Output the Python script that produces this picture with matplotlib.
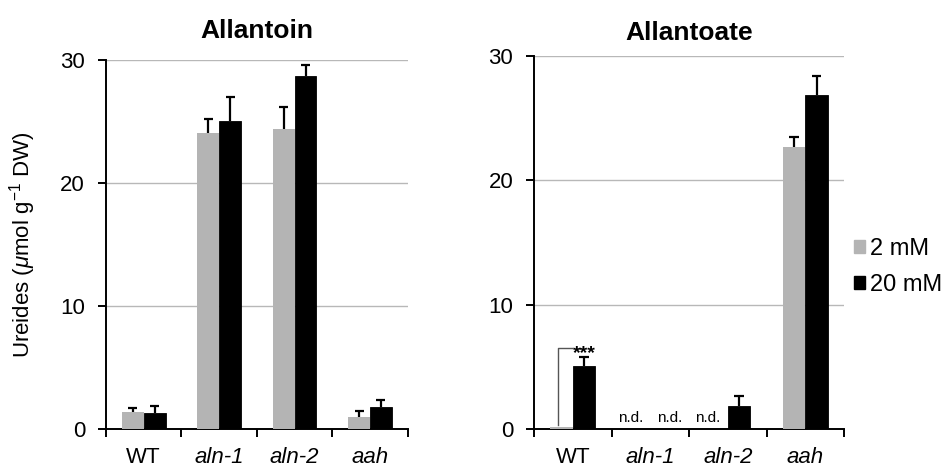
import matplotlib
matplotlib.use("Agg")
import numpy as np
import matplotlib.pyplot as plt
from matplotlib.patches import Patch

plt.rcParams["font.family"] = ["Liberation Sans", "DejaVu Sans"]
plt.rcParams["mathtext.fontset"] = "custom"
plt.rcParams["mathtext.rm"] = "Liberation Sans"
plt.rcParams["mathtext.it"] = "Liberation Sans:italic"

genotypes = ["WT", "aln-1", "aln-2", "aah"]
italic = [False, True, True, True]

# Allantoin (left panel)
allantoin_2mM = [1.4, 24.1, 24.4, 1.0]
allantoin_2mM_err = [0.3, 1.1, 1.8, 0.5]
allantoin_20mM = [1.3, 25.0, 28.7, 1.8]
allantoin_20mM_err = [0.6, 2.0, 0.9, 0.6]

# Allantoate (right panel); NaN = not detected
allantoate_2mM = [0.2, np.nan, np.nan, 22.7]
allantoate_2mM_err = [0.0, 0.0, 0.0, 0.8]
allantoate_20mM = [5.1, np.nan, 1.85, 26.9]
allantoate_20mM_err = [0.7, 0.0, 0.8, 1.5]

GRAY = "#b4b4b4"
W = 0.29
x = np.arange(len(genotypes))


def draw(ax, v2, e2, v20, e20, title, top_pad):
    for vals, errs, off, col in [(v2, e2, -W / 2, GRAY), (v20, e20, W / 2, "black")]:
        vals = np.asarray(vals, float)
        errs = np.asarray(errs, float)
        ok = ~np.isnan(vals)
        ax.bar(x[ok] + off, vals[ok], W, color=col, edgecolor="black",
               linewidth=0.6 if col == "black" else 0, zorder=3)
        has = ok & (errs > 0)
        ax.vlines(x[has] + off, vals[has], vals[has] + errs[has], color="black", lw=1.6, zorder=4)
        ax.hlines(vals[has] + errs[has], x[has] + off - 0.06, x[has] + off + 0.06,
                  color="black", lw=1.6, zorder=4)
    ax.set_xlim(-0.5, 3.5)
    ax.set_ylim(0, 30)
    ax.set_yticks([0, 10, 20, 30])
    ax.yaxis.grid(True, color="#b8b8b8", lw=1.0, zorder=0)
    ax.set_axisbelow(True)
    for s in ["top", "right"]:
        ax.spines[s].set_visible(False)
    for s in ["left", "bottom"]:
        ax.spines[s].set_linewidth(1.4)
    ax.tick_params(axis="y", labelsize=16, length=6, width=1.4, pad=9)
    ax.set_xticks(x)
    ax.set_xticklabels(genotypes, fontsize=16)
    for lab, it in zip(ax.get_xticklabels(), italic):
        if it:
            lab.set_style("italic")
    ax.set_xticks(np.arange(-0.5, 4.0, 1.0), minor=True)
    ax.tick_params(axis="x", which="major", length=0, pad=13)
    ax.tick_params(axis="x", which="minor", length=6, width=1.4)
    ax.set_title(title, fontsize=19, fontweight="bold", pad=top_pad)


fig = plt.figure(figsize=(9.46, 4.72), dpi=100)
ax1 = fig.add_axes([0.112, 0.091, 0.319, 0.782])
ax2 = fig.add_axes([0.5645, 0.091, 0.3277, 0.790])

draw(ax1, allantoin_2mM, allantoin_2mM_err, allantoin_20mM, allantoin_20mM_err, "Allantoin", 16)
draw(ax2, allantoate_2mM, allantoate_2mM_err, allantoate_20mM, allantoate_20mM_err, "Allantoate", 12)

ax1.set_ylabel(r"Ureides ($\mu$mol g$^{-1}$ DW)", fontsize=16, labelpad=16)

# not detected labels
nd = [(1, -0.25), (1, 0.25), (2, -0.26)]
for i, off in nd:
    ax2.text(x[i] + off, 0.35, "n.d.", ha="center", va="bottom", fontsize=11)

# significance bracket WT
yb = 6.5
ax2.plot([x[0] - W / 2 - 0.04, x[0] - W / 2 - 0.04, x[0] - 0.01], [allantoate_2mM[0] + 0.1, yb, yb],
         color="#555555", lw=1.0, zorder=5)
ax2.text(x[0] + W / 2, yb - 0.75, "***", ha="center", va="baseline", fontsize=14, fontweight="bold")

fig.legend(handles=[Patch(color=GRAY), Patch(color="black")], labels=["2 mM", "20 mM"],
           loc="center left", bbox_to_anchor=(0.903, 0.435), frameon=False, fontsize=17,
           handlelength=0.45, handleheight=0.45, handletextpad=0.2, labelspacing=0.6,
           borderpad=0, borderaxespad=0)

fig.savefig("out.png", dpi=100, facecolor="white")
